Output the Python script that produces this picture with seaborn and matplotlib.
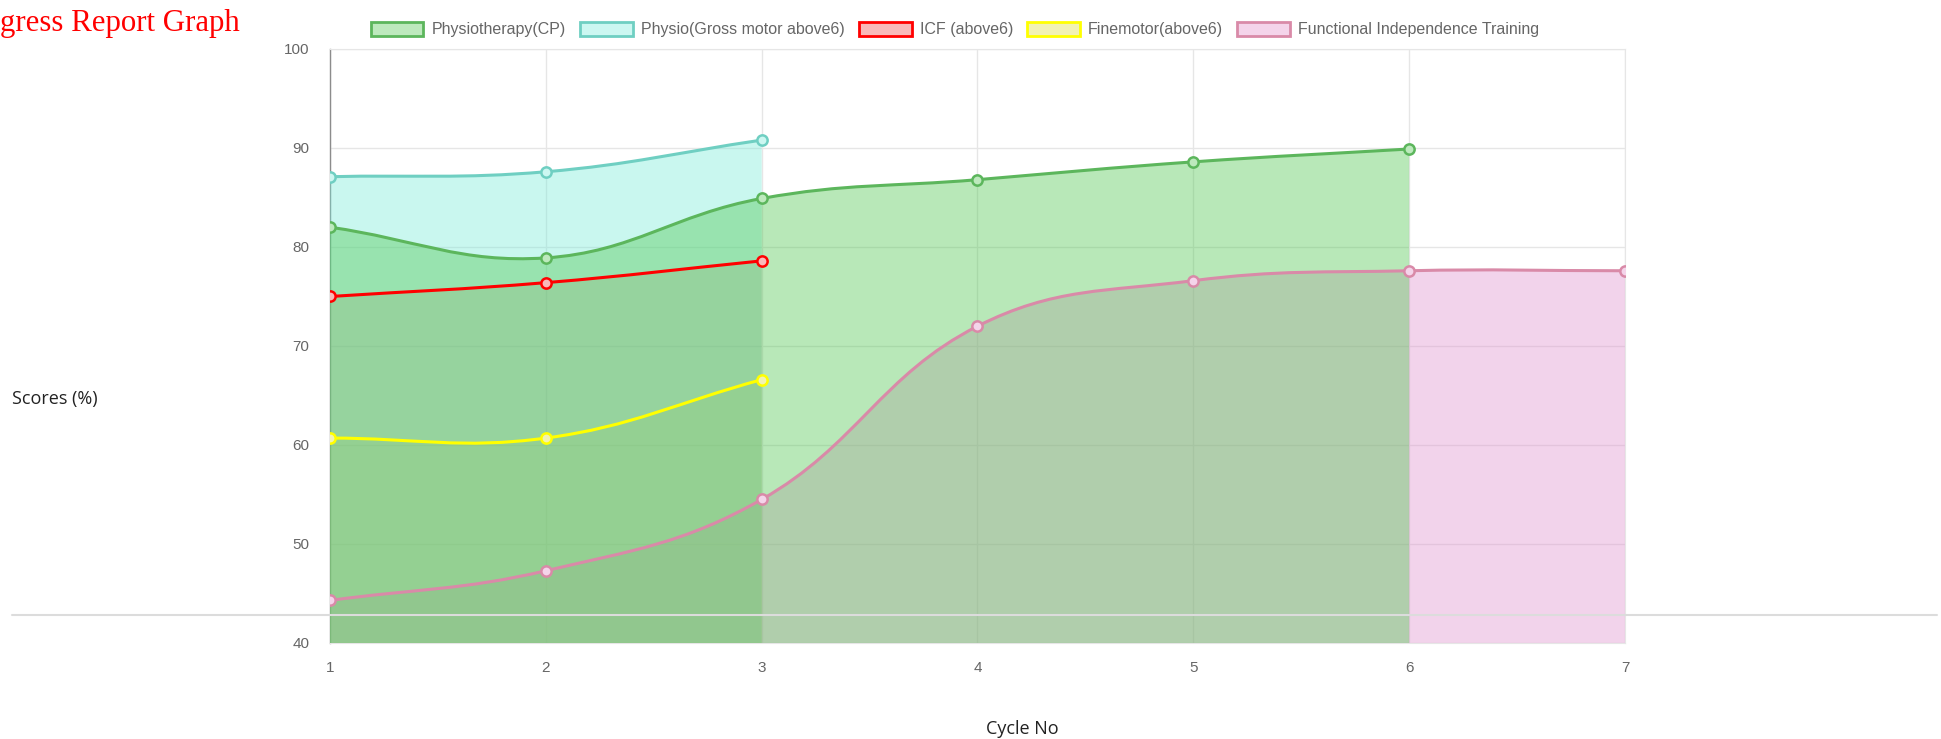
import matplotlib
matplotlib.use("Agg")
import matplotlib.pyplot as plt
import numpy as np
import seaborn as sns
from matplotlib.lines import Line2D
from matplotlib.patches import PathPatch, Patch
from matplotlib.path import Path

# Data
cycles = [1, 2, 3, 4, 5, 6, 7]
physio_cp = [82.0, 78.9, 84.9, 86.8, 88.6, 89.9]
physio_gross = [87.1, 87.6, 90.8]
icf = [75.0, 76.4, 78.6]
finemotor = [60.7, 60.7, 66.6]
fit = [44.3, 47.3, 54.5, 72.0, 76.6, 77.6, 77.6]

labels = [
    "Physiotherapy(CP)",
    "Physio(Gross motor above6)",
    "ICF (above6)",
    "Finemotor(above6)",
    "Functional Independence Training",
]
series = [physio_cp, physio_gross, icf, finemotor, fit]
line_colors = ["#5cb65c", "#6fcfc2", "#ff0000", "#ffff00", "#d98aa8"]
fill_colors = [
    (0.31, 0.78, 0.31, 0.40),
    (0.47, 0.92, 0.85, 0.40),
    (0.95, 0.30, 0.30, 0.25),
    (0.86, 0.86, 0.25, 0.25),
    (0.88, 0.57, 0.81, 0.40),
]
legend_fill = ["#bde9bd", "#ccf7f1", "#f9b9b9", "#f2f2b3", "#f4d4ea"]

Y_MIN, Y_MAX = 40, 100


def spline_path(xs, ys, sx=216.0, sy=9.94, t=0.4):
    """Chart.js style cubic spline through points, returned as path vertices."""
    pts = np.column_stack([np.asarray(xs, float) * sx, np.asarray(ys, float) * sy])
    n = len(pts)
    cp_in, cp_out = [], []
    for i in range(n):
        prev = pts[i - 1] if i > 0 else pts[i]
        nxt = pts[i + 1] if i < n - 1 else pts[i]
        d01 = np.hypot(*(pts[i] - prev))
        d12 = np.hypot(*(nxt - pts[i]))
        tot = d01 + d12
        s01 = d01 / tot if tot else 0
        s12 = d12 / tot if tot else 0
        cp_in.append(pts[i] - t * s01 * (nxt - prev))
        cp_out.append(pts[i] + t * s12 * (nxt - prev))
    verts = [pts[0]]
    codes = [Path.MOVETO]
    for i in range(1, n):
        verts += [cp_out[i - 1], cp_in[i], pts[i]]
        codes += [Path.CURVE4] * 3
    verts = np.array(verts) / [sx, sy]
    return verts, codes


sns.set_style("white")
plt.rcParams["font.family"] = ["Liberation Sans", "DejaVu Sans"]

fig = plt.figure(figsize=(19.41, 7.39), dpi=100)
ax = fig.add_axes([330 / 1941, 1 - 643 / 739, 1295 / 1941, 594 / 739])

# draw last dataset first, like Chart.js
for idx in reversed(range(len(series))):
    ys = series[idx]
    xs = cycles[: len(ys)]
    verts, codes = spline_path(xs, ys)
    fill_verts = np.vstack([verts, [[xs[-1], Y_MIN], [xs[0], Y_MIN], [xs[0], Y_MIN]]])
    fill_codes = codes + [Path.LINETO, Path.LINETO, Path.CLOSEPOLY]
    ax.add_patch(PathPatch(Path(fill_verts, fill_codes), facecolor=fill_colors[idx],
                           edgecolor="none", zorder=2 + (4 - idx)))
    ax.add_patch(PathPatch(Path(verts, codes), facecolor="none", edgecolor=line_colors[idx],
                           linewidth=2.2, zorder=10 + (4 - idx)))
    sns.scatterplot(x=xs, y=ys, ax=ax, s=55, color=legend_fill[idx],
                    edgecolor=line_colors[idx], linewidth=1.8, zorder=20 + (4 - idx))

ax.set_xlim(1, 7)
ax.set_ylim(Y_MIN, Y_MAX)
ax.set_xticks(cycles)
ax.set_yticks(range(40, 101, 10))
ax.grid(True, color="#e6e6e6", linewidth=1)
ax.set_axisbelow(True)
ax.tick_params(axis="both", length=10, width=1, color="#e6e6e6",
               labelcolor="#666666", labelsize=11)
ax.tick_params(axis="y", pad=5)
ax.tick_params(axis="x", pad=3)
for side in ["top", "right", "bottom"]:
    ax.spines[side].set_color("#e6e6e6")
ax.spines["left"].set_color("#8c8c8c")
ax.spines["left"].set_linewidth(1)

# Legend
handles = [Patch(facecolor=legend_fill[i], edgecolor=line_colors[i], linewidth=2)
           for i in range(len(labels))]
leg = fig.legend(handles, labels, loc="center", bbox_to_anchor=(955 / 1941, 1 - 29.5 / 739),
                 ncol=5, frameon=False, fontsize=11.5, handlelength=3.3, handleheight=1.0,
                 handletextpad=0.5, columnspacing=0.9)
for txt in leg.get_texts():
    txt.set_color("#666666")

# Title (cut off at the left edge as in the original page)
fig.text(-43 / 1941, 1 - 31 / 739, "Progress Report Graph", color="#ff0000",
         fontsize=22.2, family=["Liberation Serif", "DejaVu Serif"], ha="left", va="baseline")

fig.text(12 / 1941, 1 - 399 / 739, "Scores (%)", fontsize=13, family=["Open Sans", "DejaVu Sans"],
         color="#222222", ha="left", va="center")
fig.text(1022 / 1941, 1 - 729 / 739, "Cycle No", fontsize=13, family=["Open Sans", "DejaVu Sans"],
         color="#222222", ha="center", va="center")

# page separator line crossing the chart
fig.add_artist(Line2D([12 / 1941, 1937 / 1941], [1 - 615 / 739, 1 - 615 / 739],
                      transform=fig.transFigure, color="#dcdcdc", linewidth=1.5, zorder=50))

fig.savefig("out.png", dpi=100)
